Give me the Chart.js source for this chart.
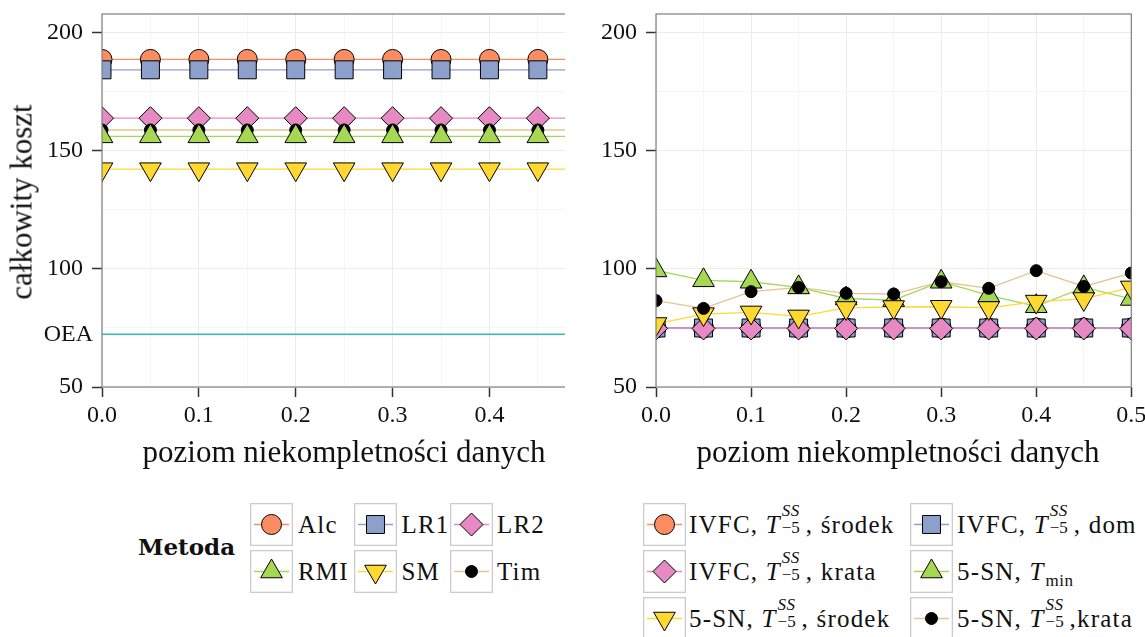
<!DOCTYPE html>
<html>
<head>
<meta charset="utf-8">
<script src="https://cdn.jsdelivr.net/npm/chart.js@4/dist/chart.umd.min.js"></script>
<style>
  html, body { margin: 0; padding: 0; background: #fff; }
  #wrap { position: relative; width: 1145px; height: 637px; overflow: hidden; background: #fff;
          font-family: 'Liberation Serif', 'DejaVu Serif', serif; color: #111; }
  #cL, #cR { position: absolute; top: 0; }
  #cL { left: 0; }
  #cR { left: 565px; background: #fff; }
  .axtitle { position: absolute; font-size: 31px; line-height: 31px; white-space: nowrap; }
  .xt { transform: translateX(-50%); }
  .yt { transform: translate(-50%, -50%) rotate(-90deg); }
  .key { position: absolute; width: 43px; height: 43px; }
  .lab { position: absolute; height: 43px; line-height: 43px; font-size: 25px; letter-spacing: 1.2px; white-space: nowrap; }
  .legtitle { position: absolute; font-family: 'DejaVu Serif', serif; font-weight: bold; font-size: 23px;
              height: 30px; line-height: 30px; }
  .T { font-style: italic; }
  .ss { display: inline-block; position: relative; width: 24px; height: 20px; margin-left: 1px; vertical-align: baseline; }
  .ss .up { position: absolute; left: 0; top: -11px; font-size: 17px; font-style: italic; line-height: 17px; letter-spacing: 0.5px; }
  .ss .dn { position: absolute; left: 0; top: 6px; font-size: 17px; line-height: 17px; letter-spacing: 0; }
  .sub { font-size: 17px; position: relative; top: 6px; margin-left: 1px; letter-spacing: 0.5px; }
</style>
</head>
<body>
<div id="wrap">
  <canvas id="cL" width="600" height="440"></canvas>
  <canvas id="cR" width="580" height="440"></canvas>
  <div class="axtitle yt" style="left:21px; top:202px;">całkowity koszt</div>
  <div class="axtitle xt" style="left:344px; top:436px;">poziom niekompletności danych</div>
  <div class="axtitle xt" style="left:898px; top:436px;">poziom niekompletności danych</div>
  <div id="legL"></div>
  <div id="legR"></div>
</div>
<script>
// Missing-data levels on the x axis
const missingLevels = [0, 0.05, 0.1, 0.15, 0.2, 0.25, 0.3, 0.35, 0.4, 0.45, 0.5];

// Left panel: reference methods (total cost)
const costAlc = [188.8, 188.8, 188.8, 188.8, 188.8, 188.8, 188.8, 188.8, 188.8, 188.8, 188.8];
const costLR1 = [184.4, 184.4, 184.4, 184.4, 184.4, 184.4, 184.4, 184.4, 184.4, 184.4, 184.4];
const costLR2 = [163.9, 163.9, 163.9, 163.9, 163.9, 163.9, 163.9, 163.9, 163.9, 163.9, 163.9];
const costRMI = [156.2, 156.2, 156.2, 156.2, 156.2, 156.2, 156.2, 156.2, 156.2, 156.2, 156.2];
const costSM  = [142.3, 142.3, 142.3, 142.3, 142.3, 142.3, 142.3, 142.3, 142.3, 142.3, 142.3];
const costTim = [158.9, 158.9, 158.9, 158.9, 158.9, 158.9, 158.9, 158.9, 158.9, 158.9, 158.9];
const costOEA = 72.3;

// Right panel: IVFC and 5-SN variants (total cost)
const costIvfcSrodek = [75, 75, 75, 75, 75, 75, 75, 75, 75, 75, 75];
const costIvfcDom    = [75, 75, 75, 75, 75, 75, 75, 75, 75, 75, 75];
const costIvfcKrata  = [74.8, 74.8, 74.8, 74.8, 74.8, 74.8, 74.8, 74.8, 74.8, 74.8, 74.8];
const costSnTmin     = [99.4, 95.2, 94.6, 92.2, 87.5, 86.8, 94.6, 88.8, 84.2, 92.2, 87.3];
const costSnSrodek   = [76.7, 80.9, 81.6, 79.9, 83.5, 83.9, 84.0, 83.5, 86.2, 87.3, 92.2];
const costSnKrata    = [86.6, 83.3, 90.4, 92.2, 89.7, 89.4, 94.6, 91.8, 99.3, 92.6, 98.3];

// Axis ticks
const yTickLabels = [50, 100, 150, 200];
const xTickLabels = [0, 0.1, 0.2, 0.3, 0.4, 0.5];

// Legend texts
const leftNames = ['Alc', 'LR1', 'LR2', 'RMI', 'SM', 'Tim'];
const TSS = '<span class="T">T</span><span class="ss"><span class="up">SS</span><span class="dn">−5</span></span>';
const rightNames = [
  'IVFC, ' + TSS + ', środek',
  'IVFC, ' + TSS + ', dom',
  'IVFC, ' + TSS + ', krata',
  '5-SN, <span class="T">T</span><span class="sub">min</span>',
  '5-SN, ' + TSS + ', środek',
  '5-SN, ' + TSS + ',krata'
];

// Shared marker / line styles (Set2-like palette)
const styles = [
  { line: '#FC8D62', fill: '#FC8D62', shape: 'circle',   radius: 10,   rotation: 0 },
  { line: '#8DA0CB', fill: '#8DA0CB', shape: 'rect',     radius: 12.7, rotation: 0 },
  { line: '#E78AC3', fill: '#E78AC3', shape: 'rectRot',  radius: 11.5, rotation: 0 },
  { line: '#A6D854', fill: '#A6D854', shape: 'triangle', radius: 12.5, rotation: 0 },
  { line: '#FFD92F', fill: '#FFD92F', shape: 'triangle', radius: 12.5, rotation: 180 },
  { line: '#E5C494', fill: '#000000', shape: 'circle',   radius: 6,    rotation: 0 }
];
const OEA_COLOR = '#2CC39F';
const FONT = "'Liberation Serif', 'DejaVu Serif', serif";

function toPoints(values) {
  return values.map((v, i) => ({ x: missingLevels[i], y: v }));
}

// Lines go underneath every marker; markers are stacked following `stack`
// (first entry at the bottom).
function buildDatasets(seriesValues, stack) {
  const lines = seriesValues.map((vals, i) => ({
    data: toPoints(vals),
    borderColor: styles[i].line,
    borderWidth: 1.3,
    pointRadius: 0,
    pointHoverRadius: 0,
    showLine: true,
    tension: 0,
    clip: 0,
    order: 100 - i
  }));
  const marks = seriesValues.map((vals, i) => ({
    data: toPoints(vals),
    showLine: false,
    pointStyle: styles[i].shape,
    pointRotation: styles[i].rotation,
    pointRadius: styles[i].radius,
    pointHoverRadius: styles[i].radius,
    pointBackgroundColor: styles[i].fill,
    pointBorderColor: '#000',
    pointBorderWidth: 1,
    clip: 0,
    order: 50 - stack.indexOf(i)
  }));
  return lines.concat(marks);
}

const isMajorY = v => yTickLabels.includes(Math.round(v));
const isMajorX = v => xTickLabels.some(t => Math.abs(t - v) < 1e-6);

function makeScales(yWidth) {
  return {
    x: {
      type: 'linear', min: 0, max: 0.5,
      border: { display: false },
      grid: {
        color: c => isMajorX(c.tick.value) ? '#EBEBEB' : '#F5F5F5',
        lineWidth: 1,
        tickLength: 10,
        tickWidth: 1.5,
        tickColor: c => isMajorX(c.tick.value) ? '#333333' : 'rgba(0,0,0,0)'
      },
      ticks: {
        stepSize: 0.05, autoSkip: false, maxRotation: 0, minRotation: 0, includeBounds: false,
        padding: 4, color: '#111', font: { family: FONT, size: 24 },
        callback: v => isMajorX(v) ? v.toFixed(1) : ''
      },
      afterFit: s => { s.height = 53; s.paddingLeft = 0; s.paddingRight = 0; }
    },
    y: {
      type: 'linear', min: 50, max: 208.05,
      border: { display: false },
      grid: {
        color: c => isMajorY(c.tick.value) ? '#EBEBEB' : '#F5F5F5',
        lineWidth: 1,
        tickLength: 10,
        tickWidth: 1.5,
        tickColor: c => isMajorY(c.tick.value) ? '#333333' : 'rgba(0,0,0,0)'
      },
      ticks: {
        stepSize: 25, autoSkip: false, includeBounds: false,
        padding: 9, color: '#111', font: { family: FONT, size: 24 },
        callback: v => isMajorY(v) ? String(v) : ''
      },
      afterFit: s => { s.width = yWidth; s.paddingTop = 0; s.paddingBottom = 0; }
    }
  };
}

// Grey frame drawn over the panel, as in a bw theme
const panelFrame = {
  id: 'panelFrame',
  afterDatasetsDraw(chart) {
    const { ctx, chartArea: a } = chart;
    ctx.save();
    ctx.strokeStyle = '#7F7F7F';
    ctx.lineWidth = 1.2;
    ctx.strokeRect(a.left, a.top, a.right - a.left, a.bottom - a.top);
    ctx.restore();
  }
};

// Horizontal OEA reference line with its label on the y axis
const oeaLine = {
  id: 'oeaLine',
  beforeDatasetsDraw(chart) {
    const { ctx, chartArea: a, scales } = chart;
    const y = scales.y.getPixelForValue(costOEA);
    ctx.save();
    ctx.strokeStyle = OEA_COLOR;
    ctx.lineWidth = 1.5;
    ctx.beginPath();
    ctx.moveTo(a.left, y);
    ctx.lineTo(a.right, y);
    ctx.stroke();
    ctx.restore();
  },
  afterDraw(chart) {
    const { ctx, chartArea: a, scales } = chart;
    const y = scales.y.getPixelForValue(costOEA);
    ctx.save();
    ctx.fillStyle = '#111';
    ctx.font = '24px ' + FONT;
    ctx.textAlign = 'right';
    ctx.textBaseline = 'middle';
    ctx.fillText('OEA', a.left - 9, y);
    ctx.restore();
  }
};

function makeChart(id, seriesValues, stack, yWidth, padRight, extraPlugins) {
  return new Chart(document.getElementById(id), {
    type: 'scatter',
    data: { datasets: buildDatasets(seriesValues, stack) },
    options: {
      responsive: false,
      maintainAspectRatio: false,
      animation: false,
      events: [],
      layout: { padding: { top: 14, right: padRight, bottom: 0, left: 0 } },
      plugins: { legend: { display: false }, tooltip: { enabled: false } },
      scales: makeScales(yWidth)
    },
    plugins: [panelFrame].concat(extraPlugins)
  });
}

makeChart('cL', [costAlc, costLR1, costLR2, costRMI, costSM, costTim], [0, 1, 2, 5, 3, 4], 102, 13, [oeaLine]);
makeChart('cR', [costIvfcSrodek, costIvfcDom, costIvfcKrata, costSnTmin, costSnSrodek, costSnKrata], [0, 1, 2, 3, 4, 5], 91, 5, []);

// ---- legends ----
function drawMarker(ctx, st, x, y) {
  ctx.fillStyle = st.fill;
  ctx.strokeStyle = '#000';
  ctx.lineWidth = 1;
  const opts = { pointStyle: st.shape, radius: st.radius, rotation: st.rotation, borderWidth: 1 };
  if (Chart.helpers && Chart.helpers.drawPoint) {
    Chart.helpers.drawPoint(ctx, opts, x, y);
    return;
  }
  const r = st.radius;
  ctx.beginPath();
  if (st.shape === 'circle') {
    ctx.arc(x, y, r, 0, Math.PI * 2);
  } else if (st.shape === 'rect') {
    const h = r * Math.SQRT1_2;
    ctx.rect(x - h, y - h, 2 * h, 2 * h);
  } else if (st.shape === 'rectRot') {
    ctx.moveTo(x - r, y); ctx.lineTo(x, y - r); ctx.lineTo(x + r, y); ctx.lineTo(x, y + r);
  } else {
    let a = st.rotation * Math.PI / 180;
    for (let k = 0; k < 3; k++) {
      const px = x + Math.sin(a) * r, py = y - Math.cos(a) * r;
      if (k === 0) ctx.moveTo(px, py); else ctx.lineTo(px, py);
      a += 2 * Math.PI / 3;
    }
  }
  ctx.closePath();
  ctx.fill();
  ctx.stroke();
}

function makeKey(st, left, top) {
  const c = document.createElement('canvas');
  c.width = 43; c.height = 43;
  c.className = 'key';
  c.style.left = left + 'px';
  c.style.top = top + 'px';
  const ctx = c.getContext('2d');
  ctx.fillStyle = '#fff';
  ctx.fillRect(0, 0, 43, 43);
  ctx.strokeStyle = '#CCCCCC';
  ctx.lineWidth = 1.3;
  ctx.strokeRect(0.65, 0.65, 41.7, 41.7);
  ctx.strokeStyle = st.line;
  ctx.lineWidth = 1.3;
  ctx.beginPath();
  ctx.moveTo(4, 21.5);
  ctx.lineTo(39, 21.5);
  ctx.stroke();
  drawMarker(ctx, st, 21.5, 21.5);
  return c;
}

function makeLabel(html, left, top) {
  const d = document.createElement('div');
  d.className = 'lab';
  d.style.left = left + 'px';
  d.style.top = top + 'px';
  d.innerHTML = '<span>' + html + '</span>';
  return d;
}

function buildLegend(holderId, names, keyCols, labCols, rows) {
  const holder = document.getElementById(holderId);
  const nc = keyCols.length;
  names.forEach((name, i) => {
    const r = Math.floor(i / nc), col = i % nc;
    holder.appendChild(makeKey(styles[i], keyCols[col], rows[r]));
    holder.appendChild(makeLabel(name, labCols[col], rows[r]));
  });
}

const legTitle = document.createElement('div');
legTitle.className = 'legtitle';
legTitle.style.left = '138px';
legTitle.style.top = '532px';
legTitle.textContent = 'Metoda';
document.getElementById('legL').appendChild(legTitle);

buildLegend('legL', leftNames, [250, 354, 449.5], [298, 401.5, 497], [503, 550]);
buildLegend('legR', rightNames, [643, 910], [689, 957], [503, 550, 597]);
</script>
</body>
</html>
